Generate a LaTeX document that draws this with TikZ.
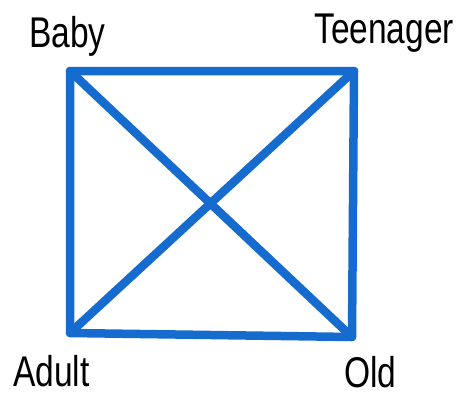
\documentclass[tikz,border=0pt]{standalone}
\usepackage{fontspec}
\usepackage{xcolor}
\usetikzlibrary{positioning,calc}
\newfontfamily\lblfont[FakeStretch=0.78]{Liberation Sans}
\definecolor{SQblue}{RGB}{22,108,206}
\tikzstyle{edge}  = [draw=SQblue, line width=8.5pt, line cap=round, line join=round]
\tikzstyle{lbl}   = [anchor=base west, inner sep=0pt, font=\lblfont\fontsize{43}{48}\selectfont]

\begin{document}
\begin{tikzpicture}[x=1pt, y=-1pt]
  \useasboundingbox (0,0) rectangle (458,397);
  % corners of the square
  \coordinate (baby)  at (70,71);
  \coordinate (teen)  at (354,71);
  \coordinate (adult) at (70,333);
  \coordinate (old)   at (352,337);

  \node[lbl] (lbaby)  at (29,47)  {Baby};
  \node[lbl] (lteen)  at (314,43) {Teenager};
  \node[lbl] (ladult) at (13,386) {Adult};
  \node[lbl] (lold)   at (344,387) {Old};

  \draw[edge] (baby) -- (teen) -- (old) -- (adult) -- cycle;
  \draw[edge] (baby) -- (old);
  \draw[edge] (teen) -- (adult);
\end{tikzpicture}
\end{document}
